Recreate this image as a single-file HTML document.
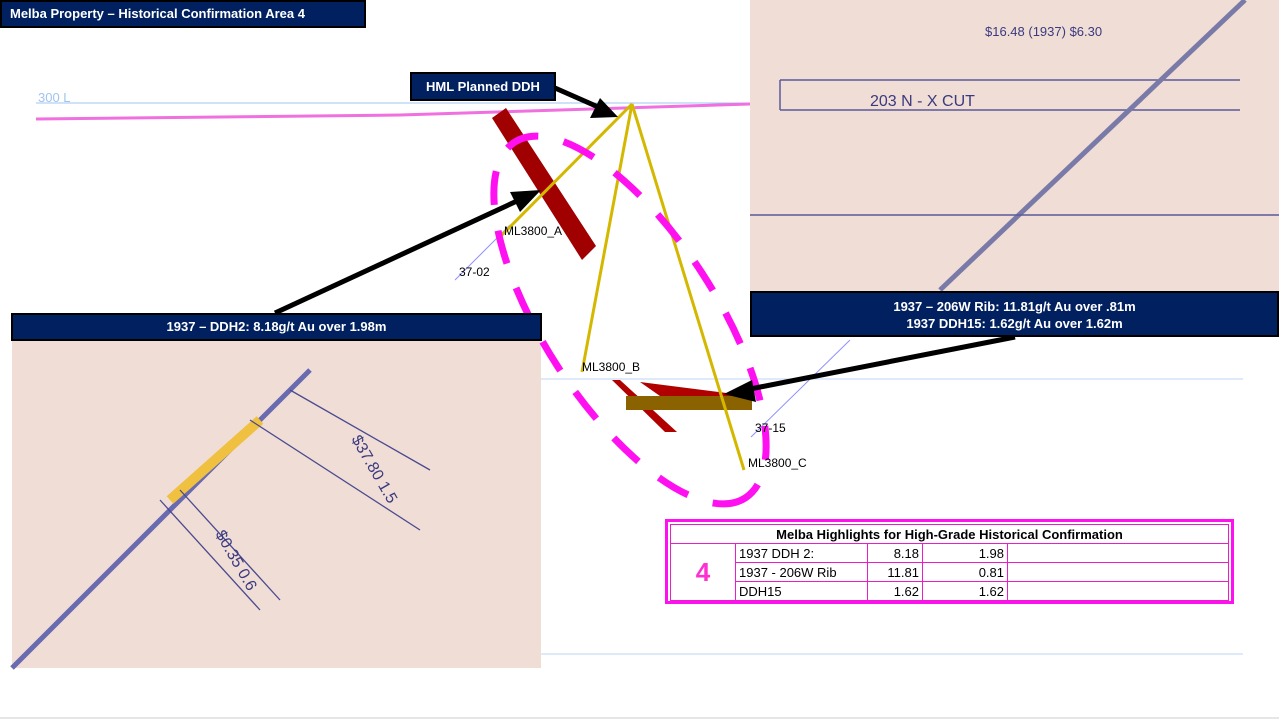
<!DOCTYPE html>
<html><head><style>
body{margin:0;width:1279px;height:721px;background:#fff;position:relative;overflow:hidden;font-family:"Liberation Sans",sans-serif}
.bar{position:absolute;background:#002060;color:#fff;font-weight:bold;font-size:13px;text-align:center;border:2px solid #000;box-sizing:border-box}
.photo{position:absolute;background:#f0ddd5}
table{border-collapse:collapse;font-size:13px}
td{border:1px solid #e81ec8;padding:0 3px;height:18px}
</style></head><body>
<div class="photo" style="left:750px;top:0;width:529px;height:291px"></div>
<div class="photo" style="left:12px;top:340px;width:529px;height:328px"></div>
<svg width="1279" height="721" style="position:absolute;left:0;top:0">
<g stroke="#5a5a9a" fill="none" stroke-width="1.5">
<line x1="780" y1="80" x2="1240" y2="80"/><line x1="780" y1="110" x2="1240" y2="110"/>
<line x1="780" y1="80" x2="780" y2="110"/>
<line x1="940" y1="290" x2="1245" y2="0" stroke-width="5" stroke="#7a7aa8"/>
<line x1="750" y1="215" x2="1279" y2="215"/>
<text x="870" y="106" font-size="16" fill="#3a3a80" stroke="none">203 N - X CUT</text>
<text x="985" y="36" font-size="13" fill="#3a3a80" stroke="none">$16.48 (1937) $6.30</text>
</g>
<g stroke="#4a4a90" fill="none" stroke-width="1.3">
<line x1="12" y1="668" x2="310" y2="370" stroke-width="5" stroke="#6a6ab0"/>
<path d="M170 500 L260 420" stroke="#f0c040" stroke-width="10"/>
<line x1="160" y1="500" x2="260" y2="610"/><line x1="180" y1="490" x2="280" y2="600"/>
<line x1="250" y1="420" x2="420" y2="530"/><line x1="290" y1="390" x2="430" y2="470"/>
<text x="310" y="450" font-size="16" fill="#3a3a80" stroke="none" transform="rotate(60 340 480)">$37.80 1.5</text>
<text x="200" y="560" font-size="16" fill="#3a3a80" stroke="none" transform="rotate(60 230 560)">$0.35 0.6</text>
</g>
<line x1="36" y1="103" x2="750" y2="103" stroke="#a0c4f0" stroke-width="1"/>
<path d="M36 119 L400 115 L750 104" stroke="#f070e0" stroke-width="3" fill="none"/>
<text x="38" y="102" font-size="13" fill="#a0c4f0">300 L</text>
<line x1="541" y1="379" x2="1243" y2="379" stroke="#bcd6f4"/>
<line x1="541" y1="654" x2="1243" y2="654" stroke="#bcd6f4"/>
<line x1="0" y1="718" x2="1279" y2="718" stroke="#ccc"/>
<polygon points="492,118 506,108 596,246 582,260" fill="#a00000"/>
<polygon points="640,382 750,396 750,404 660,396" fill="#b00000"/>
<polygon points="612,380 620,380 677,432 665,432" fill="#b00000"/>
<rect x="626" y="396" width="126" height="14" fill="#8a6300"/>
<line x1="455" y1="280" x2="510" y2="225" stroke="#8f8fff"/>
<line x1="751" y1="437" x2="850" y2="340" stroke="#8f8fff"/>
<g stroke="#d4b800" stroke-width="3" fill="none">
<line x1="632" y1="104" x2="497" y2="240"/>
<line x1="632" y1="104" x2="582" y2="372"/>
<line x1="632" y1="104" x2="744" y2="470"/>
</g>
<ellipse cx="630" cy="320" rx="212" ry="86" transform="rotate(57 630 320)" fill="none" stroke="#ff10f0" stroke-width="7" stroke-dasharray="34 26"/>
<g stroke="#000" stroke-width="5">
<line x1="275" y1="313" x2="530" y2="195"/>
<line x1="555" y1="88" x2="605" y2="110"/>
<line x1="1015" y1="337" x2="745" y2="390"/>
</g>
<polygon points="541,190 510,192 520,212" fill="#000"/>
<polygon points="618,117 590,118 600,98" fill="#000"/>
<polygon points="724,394 752,380 756,402" fill="#000"/>
<g font-size="12" fill="#000">
<text x="504" y="235">ML3800_A</text>
<text x="459" y="276">37-02</text>
<text x="582" y="371">ML3800_B</text>
<text x="755" y="432">37-15</text>
<text x="748" y="467">ML3800_C</text>
</g>
</svg>
<div class="bar" style="left:0;top:0;width:366px;height:28px;line-height:24px;font-size:13px;text-align:left;padding-left:8px">Melba Property – Historical Confirmation Area 4</div>
<div class="bar" style="left:410px;top:72px;width:146px;height:29px;line-height:25px">HML Planned DDH</div>
<div class="bar" style="left:11px;top:313px;width:531px;height:28px;line-height:24px">1937 – DDH2: 8.18g/t Au over 1.98m</div>
<div class="bar" style="left:750px;top:291px;width:529px;height:46px;line-height:17px;padding-top:5px">1937 – 206W Rib: 11.81g/t Au over .81m<br>1937 DDH15: 1.62g/t Au over 1.62m</div>
<div style="position:absolute;left:665px;top:519px;width:569px;height:85px;border:3px solid #ff10f0;box-sizing:border-box;padding:2px">
<table style="width:100%">
<tr><td colspan="5" style="text-align:center;font-weight:bold">Melba Highlights for High-Grade Historical Confirmation</td></tr>
<tr><td rowspan="3" style="width:58px;text-align:center;color:#ff30d0;font-size:26px;font-weight:bold">4</td><td style="width:125px">1937 DDH 2:</td><td style="width:48px;text-align:right">8.18</td><td style="width:78px;text-align:right">1.98</td><td></td></tr>
<tr><td>1937 - 206W Rib</td><td style="text-align:right">11.81</td><td style="text-align:right">0.81</td><td></td></tr>
<tr><td>DDH15</td><td style="text-align:right">1.62</td><td style="text-align:right">1.62</td><td></td></tr>
</table></div>
</body></html>
